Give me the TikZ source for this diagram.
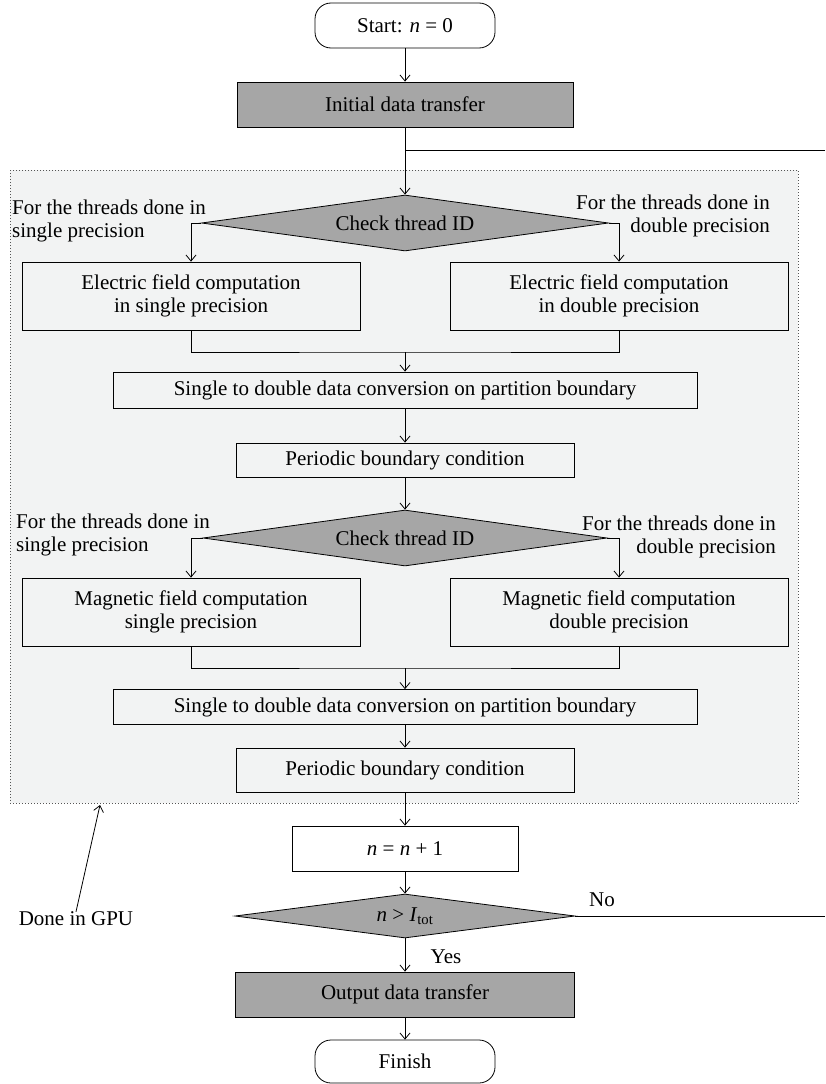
\documentclass[tikz,border=0pt]{standalone}
\usepackage{fontspec}
\setmainfont{Liberation Serif}
\usetikzlibrary{arrows.meta,shapes.geometric}
\definecolor{gpufill}{HTML}{F2F3F3}
\definecolor{darkfill}{HTML}{A6A6A6}
\definecolor{dotcol}{HTML}{555555}
\begin{document}
\begin{tikzpicture}[x=1pt,y=-1pt,
  every node/.style={font=\fontsize{21}{23}\selectfont},
  base/.style={draw=black, line width=0.8pt, inner sep=0pt, align=center},
  proc/.style={base},
  whitebox/.style={base, fill=white},
  darkbox/.style={base, fill=darkfill},
  term/.style={base, fill=white, rounded corners=16pt},
  decide/.style={base, fill=darkfill, shape=diamond, aspect=8},
  lbl/.style={inner sep=0pt},
  conn/.style={line width=0.8pt},
  arr/.style={conn, -{Straight Barb[length=6pt,width=10pt]}}
]
\useasboundingbox (0,0) rectangle (825,1084);
% GPU region
\draw[dotcol, line width=0.9pt, dash pattern=on 0.9pt off 2.1pt, fill=gpufill] (10,170) rectangle (798,803);

% nodes
\node[term, minimum width=180pt, minimum height=45pt] (start) at (405,25.5) {Start: \textit{n} = 0};
\node[darkbox, minimum width=336pt, minimum height=45pt] (init) at (405,104.5) {Initial data transfer};
\node[decide, minimum width=407pt, minimum height=56pt] (d1) at (405,223) {Check thread ID};
\node[proc, minimum width=338pt, minimum height=68pt] (eL) at (191,296) {Electric field computation\\in single precision};
\node[proc, minimum width=338pt, minimum height=68pt] (eR) at (619,296) {Electric field computation\\in double precision};
\coordinate (m1) at (405,352);
\node[proc, minimum width=584pt, minimum height=36pt] (conv1) at (405,390) {Single to double data conversion on partition boundary};
\node[proc, minimum width=338pt, minimum height=34pt] (per1) at (405,460) {Periodic boundary condition};
\node[decide, minimum width=404pt, minimum height=56pt] (d2) at (405,538) {Check thread ID};
\node[proc, minimum width=338pt, minimum height=68pt] (mL) at (191,612) {Magnetic field computation\\single precision};
\node[proc, minimum width=338pt, minimum height=68pt] (mR) at (619,612) {Magnetic field computation\\double precision};
\coordinate (m2) at (405,668);
\node[proc, minimum width=584pt, minimum height=35pt] (conv2) at (405,707) {Single to double data conversion on partition boundary};
\node[proc, minimum width=338pt, minimum height=44pt] (per2) at (405,770) {Periodic boundary condition};
\node[whitebox, minimum width=226pt, minimum height=45pt] (nbox) at (405,848.5) {\textit{n} = \textit{n} + 1};
\node[decide, minimum width=340pt, minimum height=44pt] (d3) at (405,916) {\textit{n} > \textit{I}\textsubscript{tot}};
\node[darkbox, minimum width=339pt, minimum height=45pt] (out) at (405,994.5) {Output data transfer};
\node[term, minimum width=180pt, minimum height=43pt] (fin) at (405,1061.5) {Finish};

% labels
\node[lbl, align=left, anchor=west] (l1) at (12,221) {For the threads done in\\single precision};
\node[lbl, align=right, anchor=east] (r1) at (770,216) {For the threads done in\\double precision};
\node[lbl, align=left, anchor=west] (l2) at (16,535) {For the threads done in\\single precision};
\node[lbl, align=right, anchor=east] (r2) at (776,537) {For the threads done in\\double precision};
\node[lbl] (no) at (602,900) {No};
\node[lbl] (yes) at (446,957) {Yes};
\node[lbl] (gpu) at (76,919) {Done in GPU};
\coordinate (gputip) at (100,805);

% loop stubs
\coordinate (loopA) at (405,150);
\coordinate (loopE) at (825,150);
\coordinate (noE) at (825,916);

% connectors
\draw[arr] (start) -- (init);
\draw[arr] (init) -- (d1);
\draw[conn] (loopA) -- (loopE);
\draw[arr] (d1.west) -| (eL.north);
\draw[arr] (d1.east) -| (eR.north);
\draw[conn] (eL.south) |- (m1) -| (eR.south);
\draw[arr] (m1) -- (conv1);
\draw[arr] (conv1) -- (per1);
\draw[arr] (per1) -- (d2);
\draw[arr] (d2.west) -| (mL.north);
\draw[arr] (d2.east) -| (mR.north);
\draw[conn] (mL.south) |- (m2) -| (mR.south);
\draw[arr] (m2) -- (conv2);
\draw[arr] (conv2) -- (per2);
\draw[arr] (per2) -- (nbox);
\draw[arr] (nbox) -- (d3);
\draw[arr] (d3) -- (out);
\draw[arr] (out) -- (fin);
\draw[conn] (d3.east) -- (noE);
\draw[arr] (gpu.north) -- (gputip);
\end{tikzpicture}
\end{document}
